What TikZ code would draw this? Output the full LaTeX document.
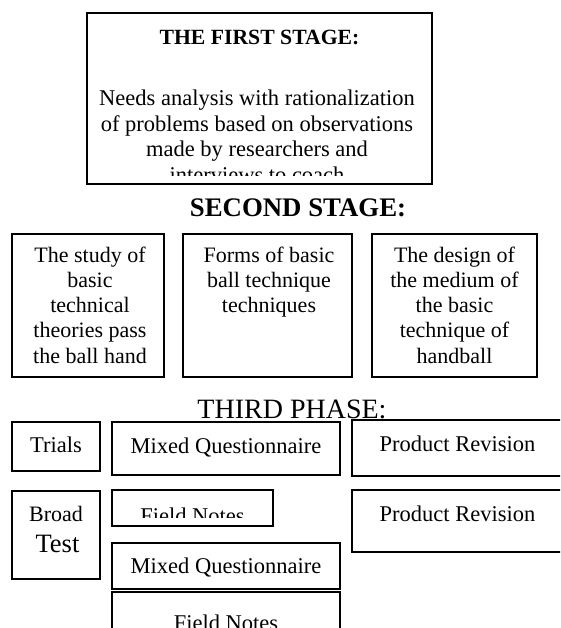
\documentclass[tikz,border=0pt]{standalone}
\usepackage{fontspec}
\setmainfont{Liberation Serif}
\begin{document}
\begin{tikzpicture}[x=1pt,y=-1pt,
  box/.style={draw, line width=1.2pt, rectangle, inner sep=0pt, outer sep=0pt},
  txt/.style={inner sep=0pt, outer sep=0pt, align=center, anchor=base},
  bodyA/.style={font=\fontsize{22.5}{25.5}\selectfont},
  bodyB/.style={font=\fontsize{22}{25.25}\selectfont},
  bodyC/.style={font=\fontsize{22.5}{26}\selectfont},
]
\clip (0,0) rectangle (560,628);
% boxes
\node[box, minimum width=345pt, minimum height=171pt] (s1) at (259.5,98.5) {};
\node[box, minimum width=152pt, minimum height=143pt] (b1) at (88,305.5) {};
\node[box, minimum width=169pt, minimum height=143pt] (b2) at (267.5,305.5) {};
\node[box, minimum width=165pt, minimum height=143pt] (b3) at (454.5,305.5) {};
\node[box, minimum width=88pt, minimum height=49pt] (trials) at (56,446.5) {};
\node[box, minimum width=228pt, minimum height=53pt] (mq1) at (226,448.5) {};
\node[box, minimum width=213pt, minimum height=56pt] (pr1) at (458.5,448) {};
\node[box, minimum width=88pt, minimum height=88pt] (broad) at (56,535) {};
\node[box, minimum width=161pt, minimum height=36pt] (fn1) at (192.5,508) {};
\node[box, minimum width=213pt, minimum height=62pt] (pr2) at (458.5,521) {};
\node[box, minimum width=228pt, minimum height=46pt] (mq2) at (226,566) {};
\node[box, minimum width=228pt, minimum height=48pt] (fn2) at (226,616) {};
% first stage
\node[txt, font=\bfseries\fontsize{21.7}{26}\selectfont] (t1) at (259.5,44.5) {THE FIRST STAGE:};
\begin{scope}
\clip (87,13) rectangle (432,176);
\node[txt, bodyA] (t1b) at (257,182.5) {Needs analysis with rationalization\\of problems based on observations\\made by researchers and\\interviews to coach};
\end{scope}
% second stage
\node[txt, font=\bfseries\fontsize{26.8}{30}\selectfont] (t2) at (298,216) {SECOND STAGE:};
\node[txt, bodyB] (b1t) at (90,363) {The study of\\basic\\technical\\theories pass\\the ball hand};
\node[txt, bodyB] (b2t) at (269,312.5) {Forms of basic\\ball technique\\techniques};
\node[txt, bodyB] (b3t) at (454.5,363) {The design of\\the medium of\\the basic\\technique of\\handball};
% third phase
\node[txt, font=\fontsize{28}{32}\selectfont] (t3) at (292,418) {THIRD PHASE:};
\node[txt, bodyC] (trialst) at (56,452) {Trials};
\node[txt, bodyC] (mq1t) at (226,453) {Mixed Questionnaire};
\node[txt, bodyC] (pr1t) at (457.5,451) {Product Revision};
\node[txt, font=\fontsize{22}{26}\selectfont] (broadt) at (56,521) {Broad};
\node[txt, font=\fontsize{26.5}{30}\selectfont] (testt) at (57.5,552) {Test};
\begin{scope}
\clip (112,490) rectangle (273,517);
\node[txt, bodyC] (fn1t) at (192.5,523) {Field Notes};
\end{scope}
\node[txt, bodyC] (pr2t) at (457.5,521) {Product Revision};
\node[txt, bodyC] (mq2t) at (226,573) {Mixed Questionnaire};
\node[txt, bodyC] (fn2t) at (226,630) {Field Notes};
\end{tikzpicture}
\end{document}
